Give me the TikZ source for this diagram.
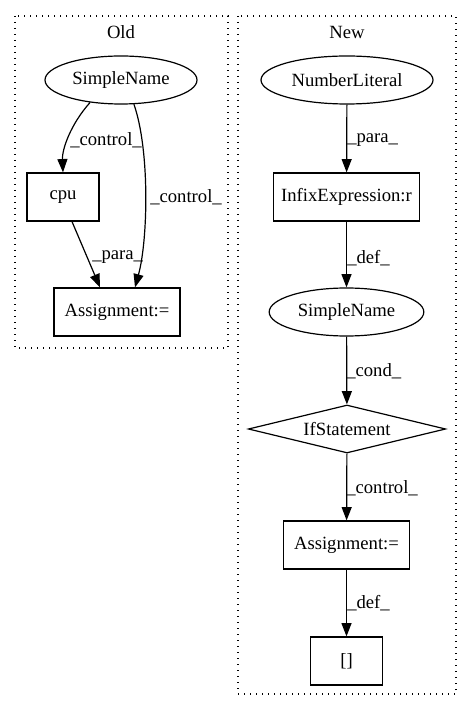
\documentclass[tikz,border=0pt]{standalone}
\usepackage{fontspec}
\setmainfont{Liberation Serif}
\usetikzlibrary{shapes.geometric,arrows.meta}

\tikzset{
	box/.style={draw, rectangle, line width=0.9pt, minimum height=36pt, inner sep=0pt},
	oval/.style={draw, ellipse, line width=0.9pt, minimum height=36pt, inner sep=0pt},
	cond/.style={draw, diamond, line width=0.9pt, aspect=4.1, inner sep=0pt, minimum height=36pt, minimum width=148pt},
	cluster/.style={draw, line width=0.9pt, dash pattern=on 1pt off 3.5pt},
	edge/.style={-{Triangle[length=10pt,width=7.5pt]}, line width=0.9pt},
	lbl/.style={anchor=west, inner sep=0pt}
}

\begin{document}
\begin{tikzpicture}[x=0.75pt, y=-0.75pt, font=\fontsize{14}{16}\selectfont]
		\useasboundingbox (0,0) rectangle (472,712);

		% clusters
		\draw[cluster] (15,16) rectangle (228,348);
		\node (oldtitle) at (121,32) {Old};
		\draw[cluster] (238,16) rectangle (456,694);
		\node (newtitle) at (347,32) {New};

		\node [oval, minimum width=114pt] (oldname) at (121,80) {SimpleName};
\node [box, minimum width=54pt] (cpu) at (63,197) {cpu};
\node [box, minimum width=94.5pt] (oldassign) at (117,312) {Assignment:=};

\node [oval, minimum width=129pt] (numlit) at (347,80) {NumberLiteral};
\node [box, minimum width=110pt] (infix) at (346.5,197) {InfixExpression:r};
\node [oval, minimum width=116pt] (newname) at (346.5,312) {SimpleName};
\node [cond] (ifstmt) at (347,429) {IfStatement};
\node [box, minimum width=94pt] (newassign) at (346.5,545) {Assignment:=};
\node [box, minimum width=54pt] (arr) at (346.5,661) {[]};

		\draw[edge] (oldname.216) .. controls (70,125) and (62,150) .. (cpu.north);
		\draw[edge] (oldname.298) .. controls (150,150) and (148,240) .. ([xshift=13.5pt]oldassign.north);
		\draw[edge] ([xshift=6.75pt]cpu.south) -- ([xshift=-12.75pt]oldassign.north);
		\node [lbl] (l1) at (70,140) {\_control\_};
\node [lbl] (l2) at (150,197) {\_control\_};
\node [lbl] (l3) at (92,257) {\_para\_};

		\draw[edge] (numlit) -- (infix);
		\draw[edge] (infix) -- (newname);
		\draw[edge] (newname) -- (ifstmt);
		\draw[edge] (ifstmt) -- (newassign);
		\draw[edge] (newassign) -- (arr);
		\node [lbl] (l4) at (347,140) {\_para\_};
\node [lbl] (l5) at (347,258) {\_def\_};
\node [lbl] (l6) at (346,371) {\_cond\_};
\node [lbl] (l7) at (346,488) {\_control\_};
\node [lbl] (l8) at (347,603) {\_def\_};

		\end{tikzpicture}
\end{document}
